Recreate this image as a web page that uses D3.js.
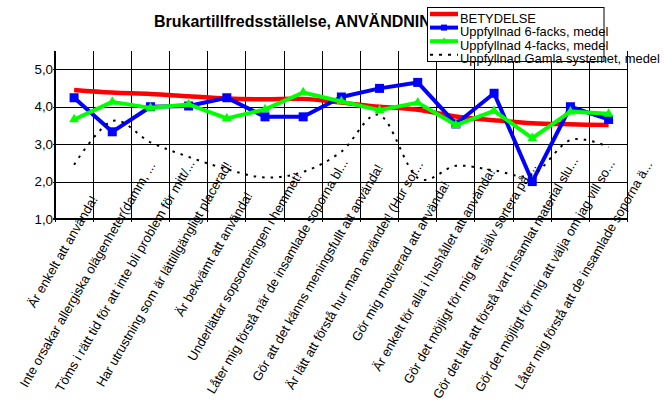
<!DOCTYPE html>
<html>
<head>
<meta charset="utf-8">
<script src="https://cdn.jsdelivr.net/npm/d3@7"></script>
<style>
  html, body { margin: 0; padding: 0; background: #fff; }
  svg { display: block; font-family: Arial, "Liberation Sans", sans-serif; }
</style>
</head>
<body>
<svg id="chart" width="664" height="402"></svg>
<script>
const categories = [
  "Är enkelt att använda!",
  "Inte orsakar allergiska olägenheter(damm, ...",
  "Töms i rätt tid för att inte bli problem för mitt/...",
  "Har utrustning som är lättillgängligt placerad!",
  "Är bekvämt att använda!",
  "Underlättar sopsorteringen i hemmet!",
  "Låter mig förstå när de insamlade soporna bl...",
  "Gör att det känns meningsfullt att använda!",
  "Är lätt att förstå hur man använder! (Hur sor...",
  "Gör mig motiverad att använda!",
  "Är enkelt för alla i hushållet att använda!",
  "Gör det möjligt för mig att själv sortera på ...",
  "Gör det lätt att förstå vart insamlat material slu...",
  "Gör det möjligt för mig att välja om jag vill so...",
  "Låter mig förstå att de insamlade soporna ä..."
];
const seriesNames = [
  "BETYDELSE",
  "Uppfyllnad 6-facks, medel",
  "Uppfyllnad 4-facks, medel",
  "Uppfyllnad Gamla systemet, medel"
];
const betydelse = [4.45, 4.38, 4.34, 4.28, 4.22, 4.20, 4.21, 4.11, 4.00, 3.92, 3.74, 3.64, 3.56, 3.53, 3.51];
const facks6    = [4.24, 3.33, 4.00, 4.02, 4.24, 3.73, 3.73, 4.26, 4.49, 4.65, 3.54, 4.36, 2.00, 4.00, 3.66];
const facks4    = [3.66, 4.13, 3.97, 4.06, 3.69, 3.93, 4.38, 4.14, 3.91, 4.11, 3.51, 3.89, 3.16, 3.87, 3.81];
const gamla     = [2.45, 3.62, 3.05, 2.66, 2.33, 2.11, 2.26, 2.80, 3.78, 2.10, 2.42, 2.30, 2.18, 3.11, 2.92];
const yTicks = [1, 2, 3, 4, 5];
const yTickLabels = ["1,0", "2,0", "3,0", "4,0", "5,0"];
const titleText = "Brukartillfredsställelse, ANVÄNDNING";

(function () {
const svg = d3.select("#chart");
const pLeft = 55, pRight = 627.7, pTop = 50.6, pBottom = 219;
const fs = 13.33;

const x = d3.scaleBand().domain(categories).range([pLeft, pRight]).paddingInner(0).paddingOuter(0);
const y = d3.scaleLinear().domain([1, 5.5]).range([pBottom, pTop]);
const cx = d => x(d) + x.bandwidth() / 2;

// title
svg.append("text")
  .attr("x", 154).attr("y", 26.5)
  .attr("font-size", 16).attr("font-weight", "bold").attr("fill", "#000")
  .text(titleText);

// horizontal gridlines + y labels
const yAxis = d3.axisLeft(y).tickValues(yTicks)
  .tickFormat((d, i) => yTickLabels[i])
  .tickSize(-(pRight - pLeft)).tickPadding(2);
const gy = svg.append("g").attr("transform", `translate(${pLeft},0)`).call(yAxis);
gy.select(".domain").remove();
gy.selectAll(".tick line").attr("stroke", "#000").attr("stroke-width", 1).attr("shape-rendering", "crispEdges").attr("x1", -2);
gy.selectAll(".tick text").attr("font-size", fs).attr("fill", "#000")
  .attr("font-family", "Arial, 'Liberation Sans', sans-serif");

// vertical gridlines at category boundaries
const boundaries = categories.map(c => x(c)).concat([pRight]);
svg.append("g").selectAll("line").data(boundaries).join("line")
  .attr("x1", d => d).attr("x2", d => d)
  .attr("y1", pTop).attr("y2", pBottom + 3)
  .attr("stroke", "#000").attr("stroke-width", 1).attr("shape-rendering", "crispEdges");

// axes lines
svg.append("line").attr("x1", pLeft).attr("x2", pLeft).attr("y1", pTop).attr("y2", pBottom + 1)
  .attr("stroke", "#000").attr("stroke-width", 2).attr("shape-rendering", "crispEdges");
svg.append("line").attr("x1", pLeft - 2).attr("x2", pRight).attr("y1", y(1)).attr("y2", y(1))
  .attr("stroke", "#000").attr("stroke-width", 2).attr("shape-rendering", "crispEdges");

// category labels, rotated -60deg
const ang = -60, rad = ang * Math.PI / 180;
const ux = Math.cos(rad), uy = Math.sin(rad);
const lbl = svg.append("g").selectAll("text").data(categories).join("text")
  .attr("font-size", 13).attr("fill", "#000").attr("text-anchor", "end")
  .text(d => d);
lbl.each(function (d) {
  const L = this.getComputedTextLength();
  const ex = cx(d) + 4.9 + 0.3 * L * ux;
  const ey = pBottom + 12.9 + 0.3 * L * uy;
  d3.select(this).attr("transform", `translate(${ex},${ey}) rotate(${ang})`);
});

// series
const smooth = d3.line().x((d, i) => cx(categories[i])).y(d => y(d)).curve(d3.curveCardinal.tension(0));
const straight = d3.line().x((d, i) => cx(categories[i])).y(d => y(d));

svg.append("path").attr("d", smooth(betydelse)).attr("fill", "none")
  .attr("stroke", "#ff0000").attr("stroke-width", 4.5);

svg.append("path").attr("d", straight(facks6)).attr("fill", "none")
  .attr("stroke", "#0000ff").attr("stroke-width", 4).attr("stroke-linejoin", "round");
svg.append("g").selectAll("rect").data(facks6).join("rect")
  .attr("x", (d, i) => cx(categories[i]) - 4.5).attr("y", d => y(d) - 4.5)
  .attr("width", 9).attr("height", 9).attr("fill", "#0000ff");

svg.append("path").attr("d", straight(facks4)).attr("fill", "none")
  .attr("stroke", "#00ff00").attr("stroke-width", 4).attr("stroke-linejoin", "round");
const tri = d3.symbol().type(d3.symbolTriangle).size(42);
svg.append("g").selectAll("path").data(facks4).join("path")
  .attr("d", tri)
  .attr("transform", (d, i) => `translate(${cx(categories[i])},${y(d)})`)
  .attr("fill", "#00ff00");

svg.append("path").attr("d", smooth(gamla)).attr("fill", "none")
  .attr("stroke", "#000").attr("stroke-width", 2).attr("stroke-dasharray", "2.5,6");

// legend
const lg = svg.append("g");
lg.append("rect").attr("x", 427.5).attr("y", 7.5).attr("width", 176.5).attr("height", 54)
  .attr("fill", "#fff").attr("stroke", "#000").attr("stroke-width", 1);
const rowY = [14, 27.6, 41.2, 54.8];
const styles = [
  { color: "#ff0000", w: 4.5, dash: null, mark: null },
  { color: "#0000ff", w: 4, dash: null, mark: "square" },
  { color: "#00ff00", w: 4, dash: null, mark: "triangle" },
  { color: "#000", w: 2, dash: "3,6", mark: null }
];
seriesNames.forEach((name, i) => {
  const s = styles[i];
  lg.append("line").attr("x1", 430).attr("x2", 458).attr("y1", rowY[i]).attr("y2", rowY[i])
    .attr("stroke", s.color).attr("stroke-width", s.w).attr("stroke-dasharray", s.dash);
  if (s.mark === "square") {
    lg.append("rect").attr("x", 444 - 3).attr("y", rowY[i] - 3).attr("width", 6).attr("height", 6).attr("fill", s.color);
  } else if (s.mark === "triangle") {
    lg.append("path").attr("d", d3.symbol().type(d3.symbolTriangle).size(20))
      .attr("transform", `translate(444,${rowY[i]})`).attr("fill", s.color);
  }
  lg.append("text").attr("x", 460).attr("y", rowY[i] + 8.5).attr("font-size", 12.9).attr("fill", "#000").text(name);
});
// plot right border drawn over legend overflow
svg.append("line").attr("x1", pRight).attr("x2", pRight).attr("y1", pTop).attr("y2", pBottom + 3)
  .attr("stroke", "#000").attr("stroke-width", 1).attr("shape-rendering", "crispEdges");
})();
</script>
</body>
</html>
